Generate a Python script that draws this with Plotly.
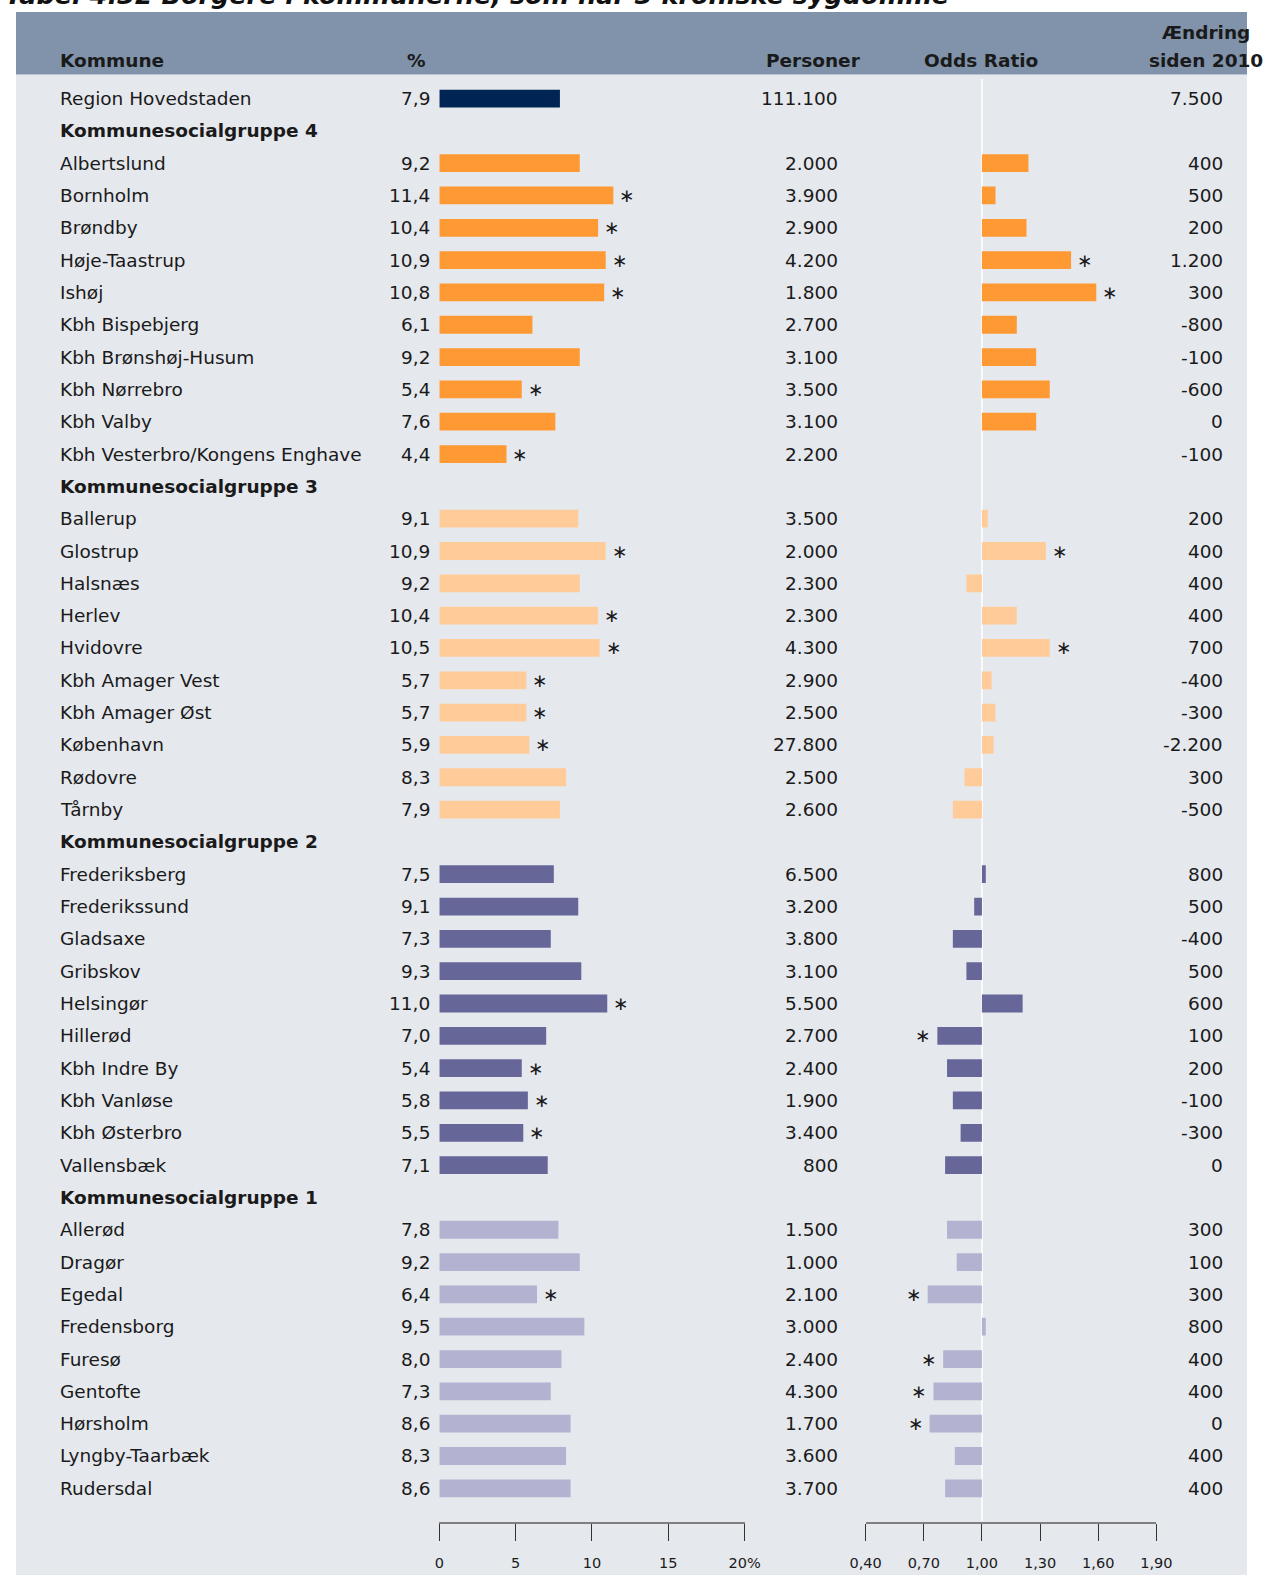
import plotly.graph_objects as go

W, H = 1263, 1575

# ---- data -------------------------------------------------------------
names = [
    "Region Hovedstaden",
    "Kommunesocialgruppe 4",
    "Albertslund", "Bornholm", "Brøndby", "Høje-Taastrup", "Ishøj",
    "Kbh Bispebjerg", "Kbh Brønshøj-Husum", "Kbh Nørrebro", "Kbh Valby",
    "Kbh Vesterbro/Kongens Enghave",
    "Kommunesocialgruppe 3",
    "Ballerup", "Glostrup", "Halsnæs", "Herlev", "Hvidovre", "Kbh Amager Vest",
    "Kbh Amager Øst", "København", "Rødovre", "Tårnby",
    "Kommunesocialgruppe 2",
    "Frederiksberg", "Frederikssund", "Gladsaxe", "Gribskov", "Helsingør",
    "Hillerød", "Kbh Indre By", "Kbh Vanløse", "Kbh Østerbro", "Vallensbæk",
    "Kommunesocialgruppe 1",
    "Allerød", "Dragør", "Egedal", "Fredensborg", "Furesø", "Gentofte",
    "Hørsholm", "Lyngby-Taarbæk", "Rudersdal",
]
groups = (["region", "header"] + [4] * 10 + ["header"] + [3] * 10
          + ["header"] + [2] * 10 + ["header"] + [1] * 9)

pct = [7.9, None,
       9.2, 11.4, 10.4, 10.9, 10.8, 6.1, 9.2, 5.4, 7.6, 4.4, None,
       9.1, 10.9, 9.2, 10.4, 10.5, 5.7, 5.7, 5.9, 8.3, 7.9, None,
       7.5, 9.1, 7.3, 9.3, 11.0, 7.0, 5.4, 5.8, 5.5, 7.1, None,
       7.8, 9.2, 6.4, 9.5, 8.0, 7.3, 8.6, 8.3, 8.6]

personer = [111100, None,
            2000, 3900, 2900, 4200, 1800, 2700, 3100, 3500, 3100, 2200, None,
            3500, 2000, 2300, 2300, 4300, 2900, 2500, 27800, 2500, 2600, None,
            6500, 3200, 3800, 3100, 5500, 2700, 2400, 1900, 3400, 800, None,
            1500, 1000, 2100, 3000, 2400, 4300, 1700, 3600, 3700]

odds = [None, None,
        1.24, 1.07, 1.23, 1.46, 1.59, 1.18, 1.28, 1.35, 1.28, 1.00, None,
        1.03, 1.33, 0.92, 1.18, 1.35, 1.05, 1.07, 1.06, 0.91, 0.85, None,
        1.02, 0.96, 0.85, 0.92, 1.21, 0.77, 0.82, 0.85, 0.89, 0.81, None,
        0.82, 0.87, 0.72, 1.02, 0.80, 0.75, 0.73, 0.86, 0.81]

aendring = [7500, None,
            400, 500, 200, 1200, 300, -800, -100, -600, 0, -100, None,
            200, 400, 400, 400, 700, -400, -300, -2200, 300, -500, None,
            800, 500, -400, 500, 600, 100, 200, -100, -300, 0, None,
            300, 100, 300, 800, 400, 400, 0, 400, 400]

pct_sig = {"Bornholm", "Brøndby", "Høje-Taastrup", "Ishøj", "Kbh Nørrebro",
           "Kbh Vesterbro/Kongens Enghave", "Glostrup", "Herlev", "Hvidovre",
           "Kbh Amager Vest", "Kbh Amager Øst", "København", "Helsingør",
           "Kbh Indre By", "Kbh Vanløse", "Kbh Østerbro", "Egedal"}
odds_sig = {"Høje-Taastrup", "Ishøj", "Glostrup", "Hvidovre", "Hillerød",
            "Egedal", "Furesø", "Gentofte", "Hørsholm"}

pct_ticks = [0, 5, 10, 15, 20]
pct_ticktext = ["0", "5", "10", "15", "20%"]
odds_ticks = [0.40, 0.70, 1.00, 1.30, 1.60, 1.90]
odds_ticktext = ["0,40", "0,70", "1,00", "1,30", "1,60", "1,90"]

title = "Tabel 4.32 Borgere i kommunerne, som har 3 kroniske sygdomme"

colors = {"region": "#002554", 4: "#ff9933", 3: "#ffcc99",
          2: "#666699", 1: "#b3b3d1"}

TEXT = "#1a1a1a"
FONT = "DejaVu Sans"
FS = 18.5
HEAD_BG = "#8093ab"
BODY_BG = "#e5e8ed"


def fx(x):
    # the page gets squeezed a little sideways when photographed,
    # so convert a wanted picture x to a paper fraction
    return (x - 17.1) / 0.973 / W


def fmt_int(n):
    return f"{n:,}".replace(",", ".")


def fmt_pct(v):
    return f"{v:.1f}".replace(".", ",")


rows = list(range(len(names)))

fig = go.Figure()

# percent bars and odds ratio bars, one trace per group
for g, col in colors.items():
    idx = [i for i in rows if groups[i] == g]
    fig.add_trace(go.Bar(
        y=idx, x=[pct[i] for i in idx], orientation="h",
        marker=dict(color=col, line=dict(width=0)), width=0.55,
        xaxis="x", yaxis="y", hoverinfo="skip"
    ))
    oi = [i for i in idx if odds[i] is not None]
    if oi:
        fig.add_trace(go.Bar(
            y=oi, x=[odds[i] - 1 for i in oi], base=1, orientation="h",
            marker=dict(color=col, line=dict(width=0)), width=0.55,
            xaxis="x2", yaxis="y", hoverinfo="skip"
        ))

annotations = []

# row texts
for i in rows:
    bold = groups[i] == "header"
    annotations.append(dict(
        x=fx(59.3), xref="paper", y=i, yref="y", xanchor="left",
        yanchor="middle", text=f"<b>{names[i]}</b>" if bold else names[i],
        showarrow=False, font=dict(size=FS, color=TEXT)
    ))
    if pct[i] is not None:
        annotations.append(dict(
            x=fx(432.5), xref="paper", y=i, yref="y", xanchor="right",
            yanchor="middle", text=fmt_pct(pct[i]), showarrow=False,
            font=dict(size=FS, color=TEXT)
        ))
    if personer[i] is not None:
        annotations.append(dict(
            x=fx(839.5), xref="paper", y=i, yref="y", xanchor="right",
            yanchor="middle", text=fmt_int(personer[i]), showarrow=False,
            font=dict(size=FS, color=TEXT)
        ))
    if aendring[i] is not None:
        annotations.append(dict(
            x=fx(1224.5), xref="paper", y=i, yref="y", xanchor="right",
            yanchor="middle", text=fmt_int(aendring[i]), showarrow=False,
            font=dict(size=FS, color=TEXT)
        ))
    # significance marks
    if names[i] in pct_sig:
        annotations.append(dict(
            x=pct[i], xref="x", y=i, yref="y", xanchor="left", yanchor="middle",
            xshift=4, text="∗", showarrow=False, font=dict(size=FS, color=TEXT)
        ))
    if names[i] in odds_sig:
        right = odds[i] >= 1
        annotations.append(dict(
            x=odds[i], xref="x2", y=i, yref="y",
            xanchor="left" if right else "right", yanchor="middle",
            xshift=4 if right else -4, text="∗", showarrow=False,
            font=dict(size=FS, color=TEXT)
        ))

# header
hy = 1 - 60.5 / H
for txt, x, anchor in [("Kommune", fx(59.3), "left"), ("%", fx(417), "center"),
                       ("Personer", fx(813), "center"),
                       ("Odds Ratio", fx(980), "center"),
                       ("siden 2010", fx(1205), "center")]:
    annotations.append(dict(
        x=x, xref="paper", y=hy, yref="paper", xanchor=anchor, yanchor="middle",
        text=f"<b>{txt}</b>", showarrow=False, font=dict(size=FS, color=TEXT)
    ))
annotations.append(dict(
    x=fx(1205), xref="paper", y=1 - 33 / H, yref="paper", xanchor="center",
    yanchor="middle", text="<b>Ændring</b>", showarrow=False,
    font=dict(size=FS, color=TEXT)
))
# title, mostly cut off at the top edge like in the source
annotations.append(dict(
    x=fx(5), xref="paper", y=1 - 10.5 / H, yref="paper", xanchor="left",
    yanchor="bottom", text=f"<b><i>{title}</i></b>", showarrow=False,
    font=dict(size=25.5, color="#111111"), borderpad=0
))

shapes = [
    dict(type="rect", xref="paper", yref="paper", x0=0, x1=1,
         y0=0, y1=1 - 74.5 / H, fillcolor=BODY_BG, line=dict(width=0),
         layer="below"),
    dict(type="rect", xref="paper", yref="paper", x0=0, x1=1,
         y0=1 - 74.5 / H, y1=1 - 12 / H, fillcolor=HEAD_BG,
         line=dict(width=0), layer="below"),
    dict(type="line", xref="x2", yref="y", x0=1, x1=1, y0=-0.6, y1=44.03,
         line=dict(color="white", width=1.5), layer="below"),
]

axis_common = dict(
    anchor="y", showline=True, linecolor="#7f7f7f", linewidth=2,
    ticks="outside", ticklen=17, tickwidth=1.2, tickcolor="#333333",
    showgrid=False, zeroline=False, tickfont=dict(size=14.5, color=TEXT),
    ticklabelstandoff=10, fixedrange=True
)

fig.update_layout(
    width=W, height=H,
    autosize=False,
    margin=dict(l=0, r=0, t=0, b=0),
    paper_bgcolor="white",
    plot_bgcolor="rgba(0,0,0,0)",
    font=dict(family=FONT, size=FS, color=TEXT),
    showlegend=False,
    barmode="overlay",
    xaxis=dict(domain=[fx(439.7), fx(744.5)], range=[0, 20],
               tickvals=pct_ticks, ticktext=pct_ticktext, **axis_common),
    xaxis2=dict(domain=[fx(865.3), fx(1155.5)], range=[0.4, 1.9],
                tickvals=odds_ticks, ticktext=odds_ticktext, **axis_common),
    yaxis=dict(domain=[1 - 1521.6 / H, 1], range=[44.03, -3.048],
               visible=False, fixedrange=True),
    annotations=annotations,
    shapes=shapes,
)

# page without body margin or scrollbars
page_js = ("document.body.style.margin='0';"
           "document.body.style.overflow='hidden';")

fig.write_html("out.html", config={"responsive": False, "displayModeBar": False},
               post_script=page_js)
